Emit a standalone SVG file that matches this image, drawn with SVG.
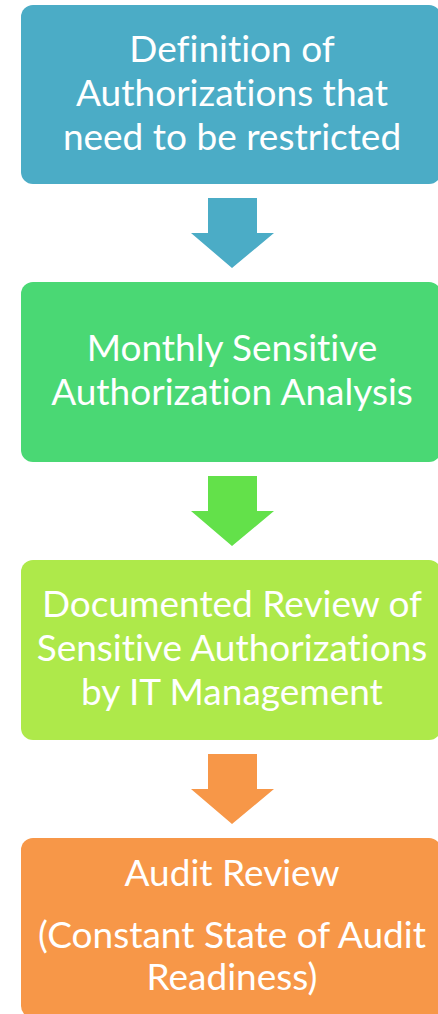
<svg xmlns="http://www.w3.org/2000/svg" width="438" height="1014" viewBox="0 0 438 1014">
  <style>
    .box { stroke: none; }
    .lbl { font-family: Lato, "Open Sans", "Liberation Sans", sans-serif; font-size: 37px; fill: #ffffff; text-anchor: middle; font-variant-ligatures: none; }
  </style>
  <rect width="438" height="1014" fill="#ffffff"/>

  <!-- process steps -->
  <g id="step-definition">
    <rect class="box" x="21" y="5" width="420" height="179" rx="12" fill="#4BACC6"/>
    <text class="lbl" x="232" y="62">Definition of</text>
    <text class="lbl" x="232" y="106">Authorizations that</text>
    <text class="lbl" x="232" y="150">need to be restricted</text>
  </g>

  <g id="step-analysis">
    <rect class="box" x="21" y="282" width="420" height="180" rx="12" fill="#4AD874"/>
    <text class="lbl" x="232" y="361">Monthly Sensitive</text>
    <text class="lbl" x="232" y="405">Authorization Analysis</text>
  </g>

  <g id="step-review">
    <rect class="box" x="21" y="560" width="420" height="180" rx="12" fill="#AEE94A"/>
    <text class="lbl" x="232" y="617">Documented Review of</text>
    <text class="lbl" x="232" y="661">Sensitive Authorizations</text>
    <text class="lbl" x="232" y="705">by IT Management</text>
  </g>

  <g id="step-audit">
    <rect class="box" x="21" y="838" width="420" height="180" rx="12" fill="#F79748"/>
    <text class="lbl" x="232" y="886">Audit Review</text>
    <text class="lbl" x="232" y="948">(Constant State of Audit</text>
    <text class="lbl" x="232" y="990">Readiness)</text>
  </g>

  <!-- block arrows between steps -->
  <g id="connectors">
    <polygon points="208,198 257,198 257,233 274,233 232,268 191,233 208,233" fill="#4BACC6"/>
    <polygon points="208,476 257,476 257,511 274,511 232,546 191,511 208,511" fill="#63E14A"/>
    <polygon points="208,754 257,754 257,789 274,789 232,824 191,789 208,789" fill="#F79748"/>
  </g>
</svg>
